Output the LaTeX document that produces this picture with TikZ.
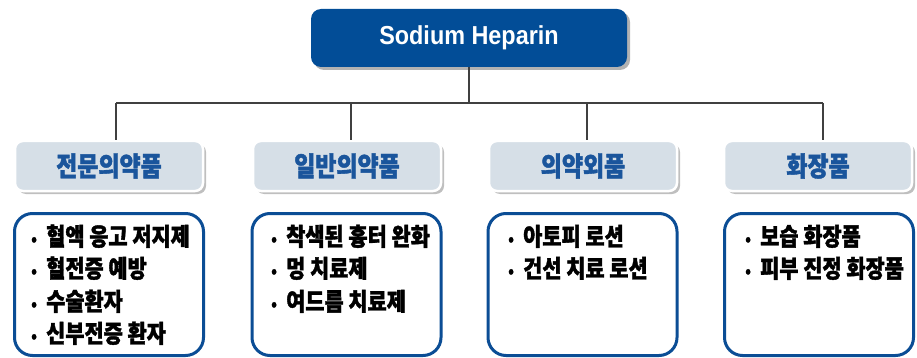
\documentclass[tikz,border=0pt]{standalone}
\usepackage{fontspec}
\setmainfont{Liberation Sans}
\newfontfamily\topfont{Liberation Sans}[FakeStretch=0.9]
\newfontfamily\kr{Noto Sans CJK KR}[BoldFeatures={FakeBold=1.5}, FakeStretch=0.85]
\usetikzlibrary{shadows}
\definecolor{topblue}{HTML}{024D97}
\definecolor{catfill}{HTML}{D6DFE7}
\definecolor{cattext}{HTML}{1A559C}
\definecolor{boxblue}{HTML}{0B4D95}
\definecolor{linegray}{HTML}{404040}
\tikzset{
  topbox/.style={rounded corners=10pt, fill=topblue, minimum width=316pt, minimum height=58pt,
    text=white, font=\topfont\bfseries\fontsize{26}{28}\selectfont,
    drop shadow={shadow xshift=3pt, shadow yshift=-3pt, opacity=0.3, fill=black}},
  catbox/.style={rounded corners=8pt, fill=catfill, draw=white, line width=2.5pt,
    minimum width=188pt, minimum height=50pt, text=cattext, font=\kr\bfseries\fontsize{27}{29}\selectfont,
    drop shadow={shadow xshift=3pt, shadow yshift=-3pt, opacity=0.25, fill=black}},
  itembox/.style={rounded corners=18pt, fill=white, draw=boxblue, line width=3pt,
    minimum width=189pt, minimum height=142pt},
  itemtext/.style={anchor=base west, inner sep=0pt, text=black, font=\kr\bfseries\fontsize{24.5}{26}\selectfont},
  conn/.style={draw=linegray, line width=1.2pt}
}
\newcommand{\bul}{\makebox[15pt][l]{\fontsize{17}{17}\selectfont\raisebox{0.5pt}{•}}}
\begin{document}
\begin{tikzpicture}[x=1pt, y=-1pt]
\useasboundingbox (0,0) rectangle (917,358);

\node[topbox] (top) at (469,38) {Sodium Heparin};

\node[catbox] (cat1) at (109,166) {전문의약품};
\node[catbox] (cat2) at (347,166) {일반의약품};
\node[catbox] (cat3) at (583,166) {의약외품};
\node[catbox] (cat4) at (818,166) {화장품};

\coordinate (bus) at (469,103);
\coordinate (j1) at (116,103);
\coordinate (j2) at (351,103);
\coordinate (j3) at (587,103);
\coordinate (j4) at (823,103);
\draw[conn] (top.south) -- (bus);
\draw[conn] (j1) -- (j4);
\draw[conn] (j1) -- (j1 |- cat1.north);
\draw[conn] (j2) -- (j2 |- cat2.north);
\draw[conn] (j3) -- (j3 |- cat3.north);
\draw[conn] (j4) -- (j4 |- cat4.north);

\node[itembox] (box1) at (109,284.5) {};
\node[itembox] (box2) at (346.5,284.5) {};
\node[itembox] (box3) at (582.5,284.5) {};
\node[itembox] (box4) at (819,284.5) {};

\node[itemtext] (t1a) at (31,245.5) {\bul 혈액 응고 저지제};
\node[itemtext] (t1b) at (31,277.5) {\bul 혈전증 예방};
\node[itemtext] (t1c) at (31,310.5) {\bul 수술환자};
\node[itemtext] (t1d) at (31,342.5) {\bul 신부전증 환자};

\node[itemtext] (t2a) at (271,245.5) {\bul 착색된 흉터 완화};
\node[itemtext] (t2b) at (271,277.5) {\bul 멍 치료제};
\node[itemtext] (t2c) at (271,310.5) {\bul 여드름 치료제};

\node[itemtext] (t3a) at (508,245.5) {\bul 아토피 로션};
\node[itemtext] (t3b) at (508,277.5) {\bul 건선 치료 로션};

\node[itemtext] (t4a) at (745,245.5) {\bul 보습 화장품};
\node[itemtext] (t4b) at (745,277.5) {\bul 피부 진정 화장품};
\end{tikzpicture}
\end{document}
